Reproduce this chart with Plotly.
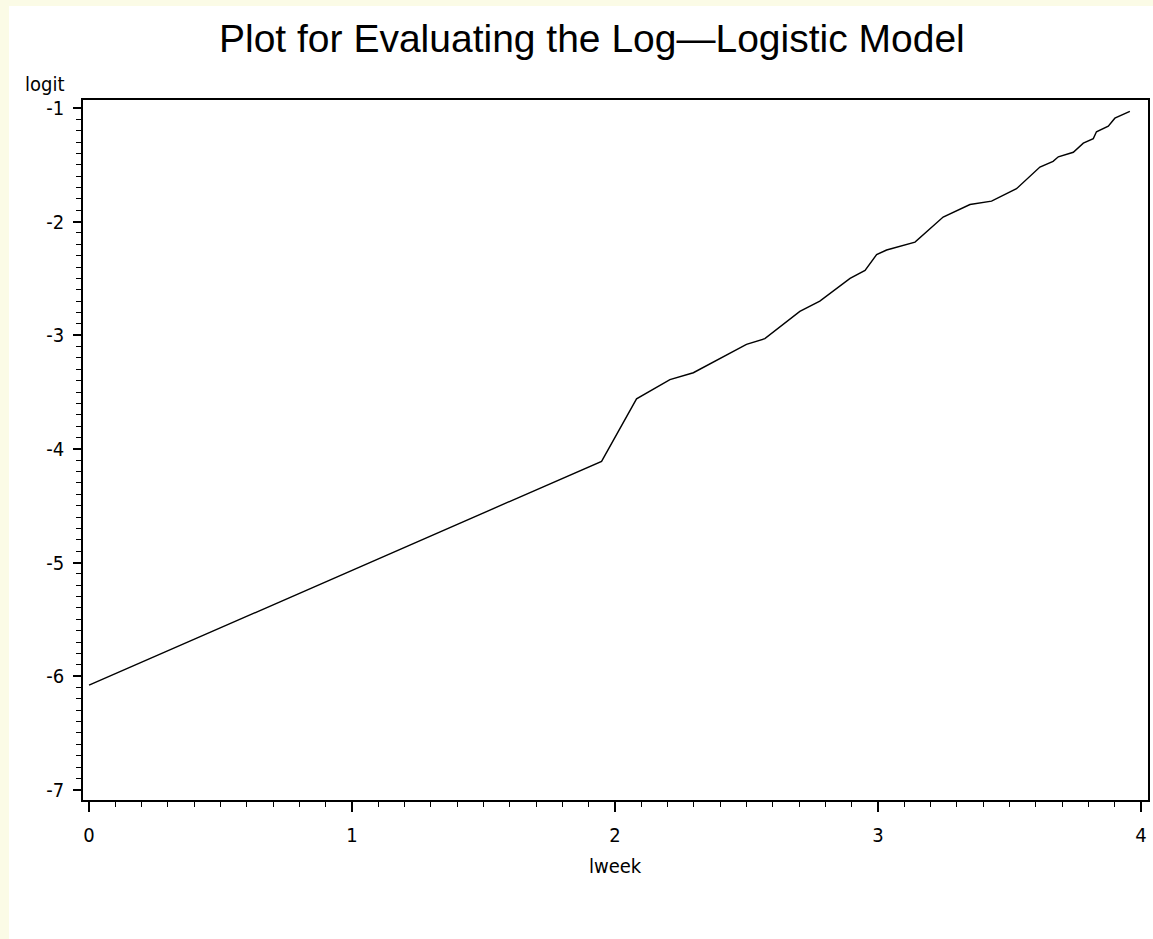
import plotly.graph_objects as go

# data
lweek = [0.0, 1.949, 2.082, 2.209, 2.298, 2.50, 2.570, 2.703, 2.779, 2.894, 2.951,
         2.995, 3.033, 3.141, 3.248, 3.350, 3.432, 3.527, 3.616, 3.666, 3.686,
         3.743, 3.781, 3.819, 3.831, 3.876, 3.901, 3.958]
logit = [-6.08, -4.11, -3.56, -3.39, -3.33, -3.08, -3.03, -2.79, -2.70, -2.50, -2.43,
         -2.29, -2.25, -2.18, -1.96, -1.85, -1.82, -1.71, -1.52, -1.47, -1.43,
         -1.39, -1.31, -1.27, -1.21, -1.16, -1.09, -1.03]
x_ticks = [0, 1, 2, 3, 4]
y_ticks = [-7, -6, -5, -4, -3, -2, -1]

tick_font = dict(family="DejaVu Sans Condensed, Liberation Sans, Arial", size=20, color="black")

fig = go.Figure()
fig.add_trace(go.Scatter(x=lweek, y=logit, mode="lines",
                         line=dict(color="black", width=1.4), showlegend=False))

W, H = 1153, 939
L, R, T, B = 83, 5, 100, 139
pw, ph = W - L - R, H - T - B

def px(xp):
    return (xp - L) / pw

def py(yp):
    return (H - B - yp) / ph

fig.update_layout(
    width=W, height=H,
    margin=dict(l=L, r=R, t=T, b=B, autoexpand=False),
    paper_bgcolor="white", plot_bgcolor="white",
    xaxis=dict(range=[-0.023, 4.027], tickvals=x_ticks, ticktext=[str(v) for v in x_ticks],
               ticks="outside", ticklen=10, tickwidth=1.5, tickcolor="black",
               ticklabelstandoff=6,
               showline=True, linecolor="black", linewidth=1.5, mirror=True,
               showgrid=False, zeroline=False, tickfont=tick_font,
               minor=dict(dtick=0.1, tick0=0, ticks="outside", ticklen=5, tickwidth=1.2,
                          tickcolor="black", showgrid=False)),
    yaxis=dict(range=[-7.09, -0.93], tickvals=y_ticks, ticktext=[str(v) for v in y_ticks],
               ticks="outside", ticklen=8, tickwidth=1.5, tickcolor="black",
               ticklabelstandoff=5,
               showline=True, linecolor="black", linewidth=1.5, mirror=True,
               showgrid=False, zeroline=False, tickfont=tick_font,
               minor=dict(dtick=0.1, tick0=0, ticks="outside", ticklen=5, tickwidth=1.2,
                          tickcolor="black", showgrid=False)),
    shapes=[
        dict(type="rect", xref="paper", yref="paper", x0=px(0), x1=px(9), y0=py(H), y1=py(0),
             fillcolor="#FBFBE6", line=dict(width=0), layer="below"),
        dict(type="rect", xref="paper", yref="paper", x0=px(0), x1=px(W), y0=py(6), y1=py(0),
             fillcolor="#FBFBE6", line=dict(width=0), layer="below"),
    ],
    annotations=[
        dict(text="Plot for Evaluating the Log\u2014Logistic Model", xref="paper", yref="paper",
             x=px(592), y=py(38), xanchor="center", yanchor="middle", showarrow=False,
             font=dict(family="Liberation Sans, Arial", size=39, color="black")),
        dict(text="logit", xref="paper", yref="paper", x=px(44), y=py(84),
             xanchor="center", yanchor="middle", showarrow=False, font=tick_font),
        dict(text="lweek", xref="paper", yref="paper", x=px(615), y=py(866),
             xanchor="center", yanchor="middle", showarrow=False, font=tick_font),
    ],
)

fig.write_html("out.html")
